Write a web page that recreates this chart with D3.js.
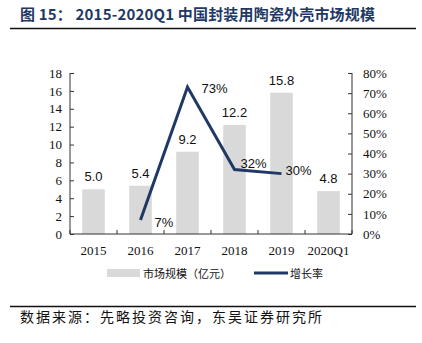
<!DOCTYPE html>
<html>
<head>
<meta charset="utf-8">
<script src="https://cdn.jsdelivr.net/npm/d3@7"></script>
<style>
  body { margin: 0; background: #fff; }
</style>
</head>
<body>
<svg></svg>
<script>
const years = ["2015", "2016", "2017", "2018", "2019", "2020Q1"];
const marketSize = [5.0, 5.4, 9.2, 12.2, 15.8, 4.8];
const growthYears = ["2016", "2017", "2018", "2019"];
const growthRate = [0.07, 0.73, 0.32, 0.30];
const leftTicks = [0, 2, 4, 6, 8, 10, 12, 14, 16, 18];
const rightTicks = [0, 0.1, 0.2, 0.3, 0.4, 0.5, 0.6, 0.7, 0.8];

const svgWidth = 422, svgHeight = 343;
const margin = {top: 73, left: 70, right: 70, bottom: 109};
const navy = "#1f3864";
const serif = "'Liberation Serif', 'Times New Roman', serif";
const cjk = "'Noto Sans CJK SC', sans-serif";

const svg = d3.select("svg")
  .attr("width", svgWidth)
  .attr("height", svgHeight);

// title + rules
svg.append("text")
  .attr("x", 20).attr("y", 20)
  .attr("font-family", cjk)
  .attr("font-weight", "bold")
  .attr("font-size", 15)
  .attr("fill", navy)
  .attr("textLength", 355)
  .attr("xml:space", "preserve")
  .text("图 15： 2015-2020Q1 中国封装用陶瓷外壳市场规模");

svg.append("line").attr("x1", 10).attr("x2", 416).attr("y1", 28.5).attr("y2", 28.5)
  .attr("stroke", "#111").attr("stroke-width", 1.5);
svg.append("line").attr("x1", 10).attr("x2", 416).attr("y1", 306.5).attr("y2", 306.5)
  .attr("stroke", "#111").attr("stroke-width", 1.5);

svg.append("text")
  .attr("x", 20).attr("y", 322)
  .attr("font-family", cjk)
  .attr("font-size", 14)
  .attr("fill", "#111")
  .attr("textLength", 302)
  .text("数据来源：先略投资咨询，东吴证券研究所");

const x = d3.scaleBand().domain(years)
  .range([margin.left, svgWidth - margin.right])
  .paddingInner(0.52).paddingOuter(0.26);
const yL = d3.scaleLinear().domain([0, 18]).range([svgHeight - margin.bottom, margin.top]);
const yR = d3.scaleLinear().domain([0, 0.8]).range([svgHeight - margin.bottom, margin.top]);

// bars
svg.append("g")
  .selectAll("rect")
  .data(marketSize)
  .join("rect")
  .attr("x", (d, i) => x(years[i]))
  .attr("width", x.bandwidth())
  .attr("y", d => yL(d))
  .attr("height", d => yL(0) - yL(d))
  .attr("fill", "#d9d9d9");

svg.append("g")
  .selectAll("text")
  .data(marketSize)
  .join("text")
  .attr("x", (d, i) => x(years[i]) + x.bandwidth() / 2)
  .attr("y", d => yL(d) - 8)
  .attr("text-anchor", "middle")
  .attr("font-family", "'Liberation Sans', Arial, sans-serif")
  .attr("font-size", 13)
  .attr("fill", "#111")
  .text(d => d.toFixed(1));

// axes
const axisL = svg.append("g")
  .attr("transform", `translate(${margin.left},0)`)
  .call(d3.axisLeft(yL).tickValues(leftTicks).tickSize(-4).tickPadding(8));
const axisR = svg.append("g")
  .attr("transform", `translate(${svgWidth - margin.right},0)`)
  .call(d3.axisRight(yR).tickValues(rightTicks).tickSize(-4).tickPadding(11)
    .tickFormat(d => Math.round(d * 100) + "%"));

const step = x.step();
const bounds = d3.range(years.length + 1).map(i => margin.left + i * step);
const axisB = svg.append("g").attr("transform", `translate(0,${yL(0)})`);
axisB.append("line").attr("x1", margin.left).attr("x2", svgWidth - margin.right)
  .attr("stroke", "#333");
axisB.selectAll(".tk").data(bounds).join("line")
  .attr("x1", d => d).attr("x2", d => d).attr("y1", 0).attr("y2", -4)
  .attr("stroke", "#333");
axisB.selectAll("text").data(years).join("text")
  .attr("x", d => x(d) + x.bandwidth() / 2)
  .attr("y", 21)
  .attr("text-anchor", "middle")
  .attr("font-family", serif)
  .attr("font-size", 13)
  .attr("fill", "#111")
  .text(d => d);

[axisL, axisR].forEach(g => {
  g.select(".domain").attr("stroke", "#333");
  g.selectAll(".tick line").attr("stroke", "#333");
  g.selectAll(".tick text").attr("font-family", serif).attr("font-size", 13).attr("fill", "#111");
});
axisR.select(".domain").attr("d", `M0,${yR(0.8)}V${yR(0)}`);
axisL.select(".domain").attr("d", `M0,${yL(18)}V${yL(0)}`);

// growth line
const cx = d => x(d) + x.bandwidth() / 2;
const line = d3.line().x((d, i) => cx(growthYears[i])).y(d => yR(d));
svg.append("path")
  .datum(growthRate)
  .attr("d", line)
  .attr("fill", "none")
  .attr("stroke", navy)
  .attr("stroke-width", 3);

const labelOffsets = [[14, 2], [14, 1], [6, -7], [4, -4]];
svg.append("g")
  .selectAll("text")
  .data(growthRate)
  .join("text")
  .attr("x", (d, i) => cx(growthYears[i]) + labelOffsets[i][0])
  .attr("y", (d, i) => yR(d) + labelOffsets[i][1] + 5)
  .attr("font-family", "'Liberation Sans', Arial, sans-serif")
  .attr("font-size", 13)
  .attr("fill", "#111")
  .text(d => Math.round(d * 100) + "%");

// legend
const legend = svg.append("g").attr("transform", "translate(0,273)");
legend.append("rect").attr("x", 107).attr("y", -4).attr("width", 33).attr("height", 8)
  .attr("fill", "#d9d9d9");
legend.append("text").attr("x", 143).attr("y", 4.5)
  .attr("font-family", cjk).attr("font-size", 11).attr("fill", "#111")
  .text("市场规模（亿元）");
legend.append("line").attr("x1", 254).attr("x2", 288).attr("y1", 0).attr("y2", 0)
  .attr("stroke", navy).attr("stroke-width", 3);
legend.append("text").attr("x", 290).attr("y", 4.5)
  .attr("font-family", cjk).attr("font-size", 11).attr("fill", "#111")
  .text("增长率");
</script>
</body>
</html>
